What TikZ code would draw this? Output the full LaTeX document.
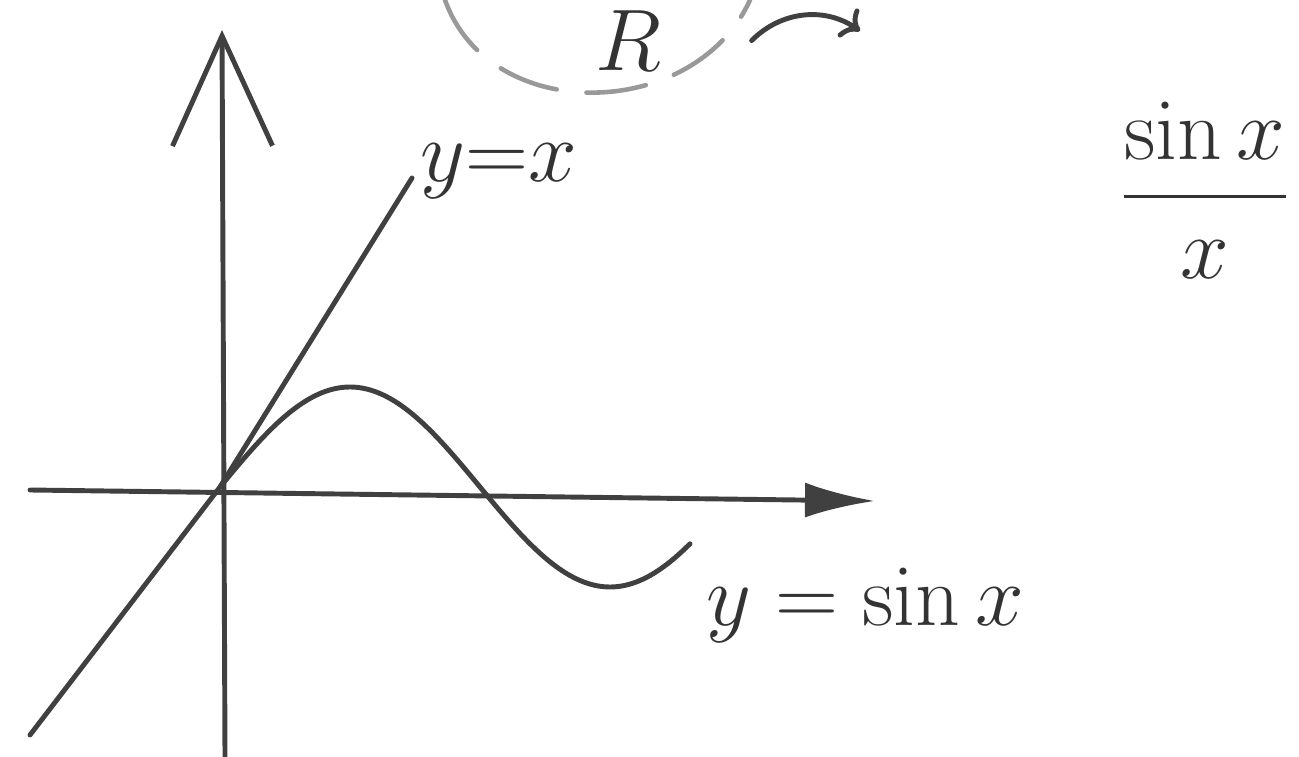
\documentclass[tikz,border=0pt]{standalone}
\usepackage{amsmath}
\usetikzlibrary{arrows.meta}

\begin{document}
\begin{tikzpicture}[
  ink/.style={line width=1.4pt,black!75,line cap=round,line join=round},
  faint/.style={line width=1.3pt,black!40,dash pattern=on 6mm off 3mm,line cap=round},
  lbl/.style={font=\fontsize{26}{30}\selectfont,inner sep=0pt,black!80}]
  \useasboundingbox (0,0) rectangle (12.99,7.56);
  \coordinate (O) at (2.20,2.69);
  \coordinate (xl) at (0.30,2.66);
  \coordinate (xr) at (8.75,2.55);
  \coordinate (yb) at (2.25,0.0);
  \coordinate (yt) at (2.22,7.26);
  \coordinate (ll) at (0.30,0.21);
  \coordinate (lu) at (4.12,5.78);
  % axes
  \draw[ink,-{Latex[length=7mm,width=3.5mm]}] (xl) -- (xr);
  \draw[ink,-{Straight Barb[length=11mm,width=10mm]}] (yb) -- (yt);
  % y=x and sin x
  \draw[ink] (ll) -- (O) -- (lu);
  \draw[ink,domain=0:5.68,samples=80,smooth] plot ({2.20+0.8276*\x},{2.69+sin(\x r)});
  \node[lbl,anchor=west] (lyx) at (4.20,5.85) {$y{=}x$};
  \node[lbl] (lsin) at (8.65,1.51) {$y = \sin x$};
  \node[lbl] (frac) at (12.05,5.66) {$\dfrac{\sin x}{x}$};
  % top
  \node[lbl,anchor=north] (R) at (6.28,7.46) {$R$};
  \coordinate (hk) at (8.60,7.25);
  \draw[faint] (4.45,7.56) .. controls (4.90,6.30) and (6.95,6.35) .. (7.50,7.56);
  \draw[ink,->] (R.east) ++(0.9,0) to[bend left=40] (hk);
\end{tikzpicture}
\end{document}
